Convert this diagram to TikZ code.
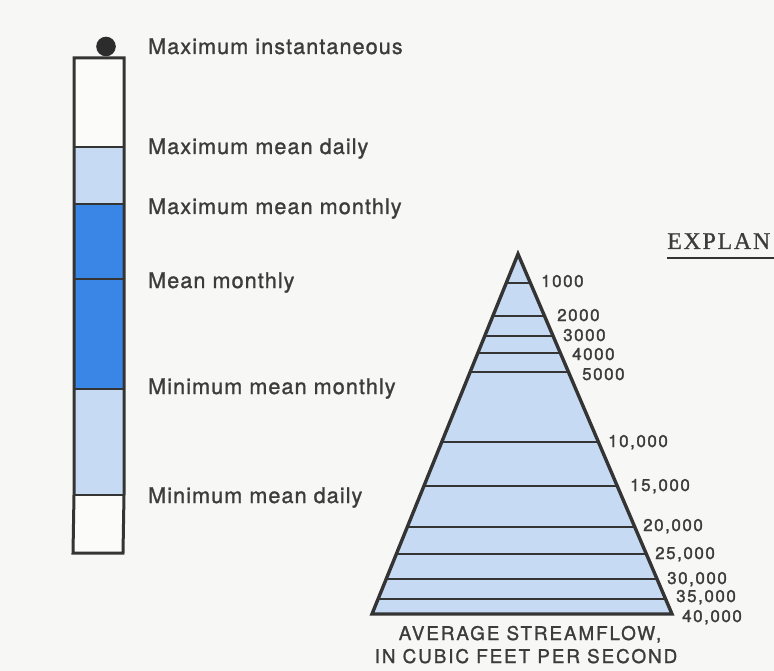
\documentclass[tikz,border=0pt]{standalone}
\usepackage{fontspec}
\setmainfont{TeX Gyre Heros}
\newfontfamily\labelfont[LetterSpace=5, FakeBold=1.2]{TeX Gyre Heros}
\newfontfamily\numfont[LetterSpace=9, FakeBold=1.6]{TeX Gyre Heros}
\newfontfamily\capfont[LetterSpace=10, FakeBold=1.2]{TeX Gyre Heros}
\newfontfamily\headfont[LetterSpace=7, FakeBold=0.8]{Liberation Serif}
\definecolor{paper}{RGB}{247,247,245}
\definecolor{ink}{RGB}{52,52,52}
\definecolor{txt}{RGB}{60,60,60}
\definecolor{paleblue}{RGB}{198,218,243}
\definecolor{deepblue}{RGB}{58,134,230}
\definecolor{barwhite}{RGB}{251,251,250}
\tikzset{
  outline/.style={draw=ink, line width=3pt, line join=miter},
  divider/.style={draw=ink, line width=2.8pt},
  legendtext/.style={anchor=base west, inner sep=0pt, text=txt,
    font=\labelfont\fontsize{21.6}{26}\selectfont},
  flowtext/.style={anchor=base west, inner sep=0pt, text=txt,
    font=\numfont\fontsize{17}{20}\selectfont},
  captiontext/.style={anchor=base, inner sep=0pt, text=txt,
    font=\capfont\fontsize{18.9}{22}\selectfont},
}
\begin{document}
\begin{tikzpicture}[x=1pt, y=-1pt]
\useasboundingbox (0,0) rectangle (774,671);
\fill[paper] (0,0) rectangle (774,671);

% ---- column legend -------------------------------------------------
\fill[barwhite] (74,58) rectangle (124,147);
\fill[paleblue] (74,147) rectangle (124,204);
\fill[deepblue] (74,204) rectangle (124,389);
\fill[paleblue] (74,389) rectangle (124,495);
\fill[barwhite] (74,495) -- (124,495) -- (123,553) -- (73,553) -- cycle;
\foreach \yy in {147,204,279,389,495}
  \draw[divider] (74,\yy) -- (124,\yy);
\draw[outline] (74,58) -- (124,58) -- (124,495) -- (123,553) -- (73,553) -- (74,495) -- cycle;
\fill[ink!85!black] (106,46.5) circle (9.8);

\node[legendtext] (maxinst)  at (148,54)  {Maximum instantaneous};
\node[legendtext] (maxdaily) at (148,154) {Maximum mean daily};
\node[legendtext] (maxmon)   at (148,214) {Maximum mean monthly};
\node[legendtext] (meanmon)  at (148,288) {Mean monthly};
\node[legendtext] (minmon)   at (148,394) {Minimum mean monthly};
\node[legendtext] (mindaily) at (148,503) {Minimum mean daily};

% ---- heading --------------------------------------------------------
\node[anchor=base west, inner sep=0pt, text=txt,
      font=\headfont\fontsize{24}{28}\selectfont] (head) at (667,249) {EXPLAN};
\draw[ink, line width=1.8pt] (667,258) -- (774,258);

% ---- streamflow triangle --------------------------------------------
\coordinate (apex) at (518,254);
\coordinate (bl) at (372,614);
\coordinate (br) at (672,614);
\fill[paleblue] (apex) -- (br) -- (bl) -- cycle;
\foreach \yy in {283,316,336,353,372,442,486,527,554,579,599} {
  \pgfmathsetmacro{\xl}{518-(\yy-254)/360*146}
  \pgfmathsetmacro{\xr}{518+(\yy-254)/360*154}
  \draw[divider] (\xl,\yy) -- (\xr,\yy);
}
\draw[outline, line width=3.4pt] (apex) -- (br) -- (bl) -- cycle;

\node[flowtext] (f1)  at (541,287) {1000};
\node[flowtext] (f2)  at (557,321) {2000};
\node[flowtext] (f3)  at (563,341) {3000};
\node[flowtext] (f4)  at (572,360) {4000};
\node[flowtext] (f5)  at (582,380) {5000};
\node[flowtext] (f10) at (608,447) {10,000};
\node[flowtext] (f15) at (630,491) {15,000};
\node[flowtext] (f20) at (643,531) {20,000};
\node[flowtext] (f25) at (655,559) {25,000};
\node[flowtext] (f30) at (667,584) {30,000};
\node[flowtext] (f35) at (676,602) {35,000};
\node[flowtext] (f40) at (682,622) {40,000};

\node[captiontext] (cap1) at (530,640) {AVERAGE STREAMFLOW,};
\node[captiontext] (cap2) at (526,663) {IN CUBIC FEET PER SECOND};
\end{tikzpicture}
\end{document}
